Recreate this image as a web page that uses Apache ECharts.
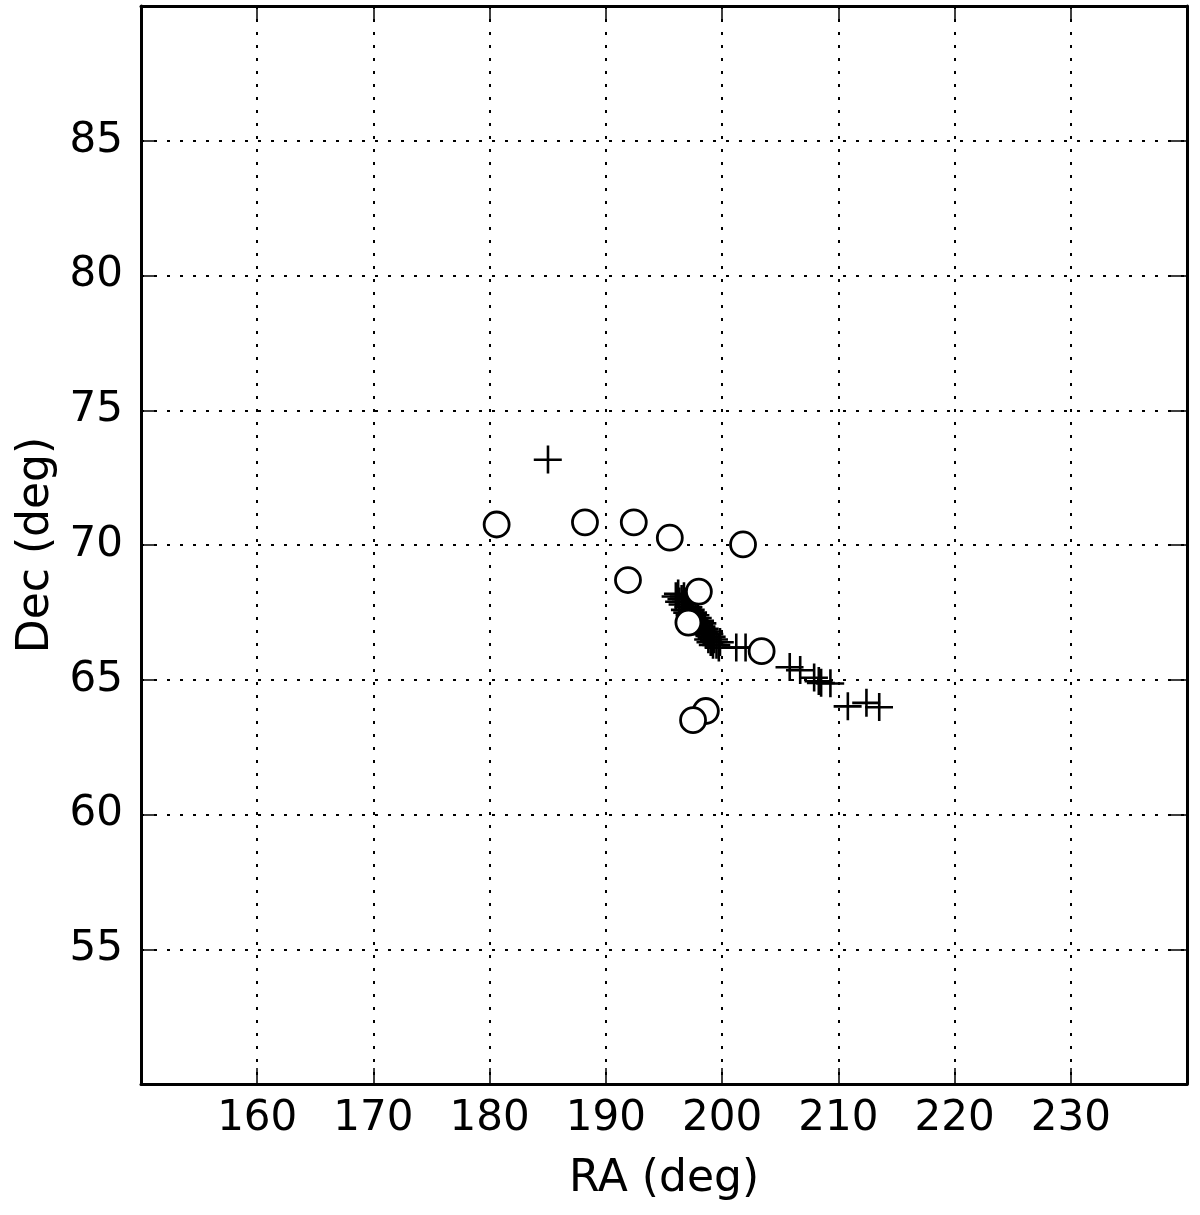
<!DOCTYPE html>
<html>
<head>
<meta charset="utf-8">
<script src="https://cdn.jsdelivr.net/npm/echarts@6/dist/echarts.min.js"></script>
<style>
  html, body { margin: 0; padding: 0; background: #fff; }
  #chart { width: 1200px; height: 1215px; }
</style>
</head>
<body>
<div id="chart"></div>
<script>
// ticks
var xTicks = [160, 170, 180, 190, 200, 210, 220, 230];
var yTicks = [55, 60, 65, 70, 75, 80, 85];

// circles (RA, Dec)
var circleRA  = [180.6, 188.2, 192.4, 195.5, 201.8, 191.9, 198.0, 197.1, 203.4, 198.6, 197.5];
var circleDec = [70.76, 70.84, 70.84, 70.27, 70.02, 68.70, 68.27, 67.12, 66.06, 63.84, 63.50];

// crosses (RA, Dec)
var crossRA = [185.0,
  196.0, 196.2, 196.3, 196.5, 196.6, 196.7, 196.8, 196.9, 197.0, 197.1,
  197.2, 197.3, 197.4, 197.5, 197.6, 197.7, 197.8, 197.9, 198.0, 198.1,
  198.2, 198.3, 198.4, 198.5, 198.6, 198.7, 198.8, 198.9, 199.0, 199.1,
  199.2, 199.3, 199.5, 199.7, 199.8,
  201.2, 202.0, 205.8, 206.7, 207.9, 208.3, 208.5, 209.3, 210.8, 212.4, 213.5];
var crossDec = [73.17,
  68.1, 68.2, 67.9, 68.0, 67.8, 68.1, 67.6, 67.9, 67.5, 67.7,
  67.4, 67.6, 67.3, 67.5, 67.2, 67.4, 67.1, 67.3, 67.0, 67.2,
  66.9, 67.1, 66.8, 66.9, 66.7, 66.8, 66.5, 66.7, 66.4, 66.6,
  66.3, 66.5, 66.3, 66.2, 66.4,
  66.2, 66.2, 65.47, 65.36, 65.08, 64.95, 64.89, 64.87, 64.02, 64.15, 63.99];

var circles = circleRA.map(function (v, i) { return [v, circleDec[i]]; });
var crosses = crossRA.map(function (v, i) { return [v, crossDec[i]]; });

var chart = echarts.init(document.getElementById('chart'));
var font = 'DejaVu Sans';
var lineStyle = { color: '#000', width: 3 };
var tickStyle = { show: true, inside: true, length: 16, lineStyle: { color: '#000', width: 1.5 } };
var gridLine = { show: true, lineStyle: { color: '#000', type: [3, 10], width: 2 } };

function xLabel(v) { return xTicks.indexOf(v) >= 0 ? String(v) : ''; }
function yLabel(v) { return yTicks.indexOf(v) >= 0 ? String(v) : ''; }

var option = {
  backgroundColor: '#fff',
  animation: false,
  grid: { left: 141, right: 13, top: 6, bottom: 131 },
  xAxis: [{
    type: 'value', min: 150, max: 240, interval: 10,
    name: 'RA (deg)', nameLocation: 'middle', nameGap: 74,
    nameTextStyle: { fontFamily: font, fontSize: 44, color: '#000' },
    axisLine: { show: true, lineStyle: lineStyle },
    axisTick: tickStyle,
    axisLabel: { formatter: xLabel, fontFamily: font, fontSize: 42, color: '#000', margin: 14 },
    splitLine: gridLine
  }, {
    type: 'value', position: 'top', min: 150, max: 240, interval: 10,
    axisLine: { show: true, lineStyle: lineStyle },
    axisTick: tickStyle,
    axisLabel: { show: false }, splitLine: { show: false }
  }],
  yAxis: [{
    type: 'value', min: 50, max: 90, interval: 5,
    name: 'Dec (deg)', nameLocation: 'middle', nameGap: 82, nameRotate: 90,
    nameTextStyle: { fontFamily: font, fontSize: 44, color: '#000' },
    axisLine: { show: true, lineStyle: lineStyle },
    axisTick: tickStyle,
    axisLabel: { formatter: yLabel, fontFamily: font, fontSize: 42, color: '#000', margin: 18 },
    splitLine: gridLine
  }, {
    type: 'value', position: 'right', min: 50, max: 90, interval: 5,
    axisLine: { show: true, lineStyle: lineStyle },
    axisTick: tickStyle,
    axisLabel: { show: false }, splitLine: { show: false }
  }],
  series: [{
    type: 'scatter', data: crosses,
    symbol: 'path://M12,0h2.4v26h-2.4zM0,12h26v2.4h-26z', symbolSize: 28,
    itemStyle: { color: '#000', opacity: 1 }
  }, {
    type: 'scatter', data: circles,
    symbol: 'circle', symbolSize: 25,
    itemStyle: { color: '#fff', borderColor: '#000', borderWidth: 2.8, opacity: 1 }
  }]
};
chart.setOption(option);
</script>
</body>
</html>
